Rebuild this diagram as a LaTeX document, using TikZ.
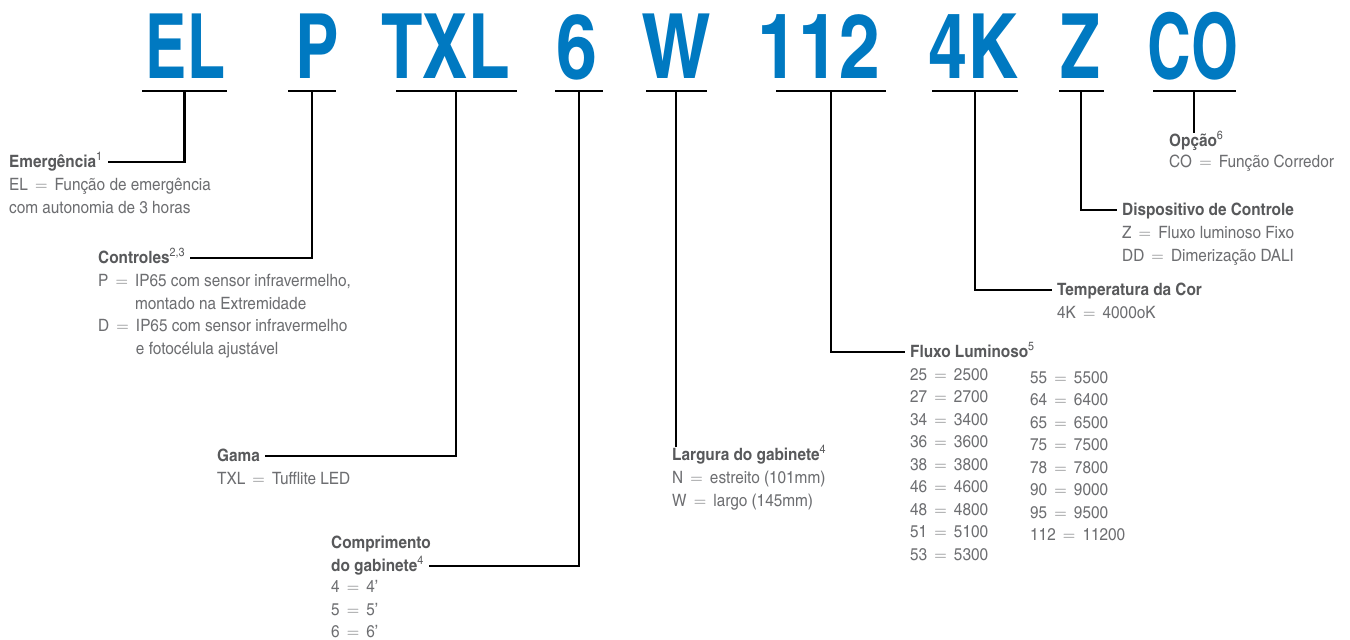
\documentclass[tikz,border=0pt]{standalone}
\usepackage[no-math]{fontspec}
\setmainfont{texgyreheroscn}[Extension=.otf, UprightFont=*-regular, BoldFont=*-bold]
\newfontfamily\codefont{texgyreheroscn-bold.otf}
\newfontfamily\headfont{texgyreheroscn-bold.otf}[FakeStretch=1.1]
\newfontfamily\bodyfont{texgyreheroscn-regular.otf}[FakeStretch=1.1]
\usetikzlibrary{positioning}
\definecolor{CodeBlue}{HTML}{0079C1}
\definecolor{Head}{HTML}{58595B}
\definecolor{Body}{HTML}{6D6E71}
\newcommand{\fnote}[1]{\textsuperscript{\bodyfont #1}}
\newcommand{\eq}{\hspace{0.42em}$=$\hspace{0.42em}}

\tikzset{
  code/.style={font=\fontsize{90}{90}\selectfont\codefont, text=CodeBlue, inner sep=0pt, anchor=base},
  bar/.style={fill=black, inner sep=0pt, minimum height=2.5pt, minimum width=#1},
  link/.style={line width=2.5pt},
  head/.style={font=\fontsize{17}{22.5}\selectfont\headfont, text=Head, anchor=west, inner xsep=5pt, inner ysep=0pt, text height=13pt, text depth=3pt},
  body/.style={font=\fontsize{17}{22.5}\selectfont\bodyfont, text=Body, anchor=north west, align=left, inner xsep=5pt, inner ysep=0pt},
}

\begin{document}
\begin{tikzpicture}[x=1pt,y=-1pt]
  \useasboundingbox (0,0) rectangle (1350,640);
  % code letters
  \node[code] (el) at (185.5,78) {\scalebox{0.84}[1]{EL}};
  \node[code] (p) at (317,78) {\scalebox{0.89}[1]{P}};
  \node[code] (txl) at (445.5,78) {\scalebox{0.92}[1]{TXL}};
  \node[code] (six) at (577,78) {6};
  \node[code] (w) at (676.5,78) {W};
  \node[code] (n112) at (819,78) {112};
  \node[code] (n4k) at (973.5,78) {\scalebox{0.95}[1]{4K}};
  \node[code] (z) at (1080.5,78) {\scalebox{0.88}[1]{Z}};
  \node[code] (co) at (1193,78) {\scalebox{0.82}[1]{CO}};
  % underlines
  \node[bar=85pt] (el-bar) at (184.5,91) {};
  \node[bar=48pt] (p-bar) at (312,91) {};
  \node[bar=121pt] (txl-bar) at (456,91) {};
  \node[bar=48pt] (six-bar) at (579,91) {};
  \node[bar=61pt] (w-bar) at (676,91) {};
  \node[bar=110pt] (n112-bar) at (831,91) {};
  \node[bar=86pt] (n4k-bar) at (975,91) {};
  \node[bar=45pt] (z-bar) at (1081,91) {};
  \node[bar=83pt] (co-bar) at (1194,91) {};

  % headings
  \node[head] (emerg) at (4,162) {Emergência\fnote{1}};
  \node[head] (ctrl) at (93,258) {Controles\fnote{2,3}};
  \node[head] (gama) at (212,456) {Gama};
  \node[head] (compr) at (326,566) {do gabinete\fnote{4}};
  \node[head, anchor=south west, yshift=6pt] (compr-top) at (compr.north west) {Comprimento};
  \node[head] (larg) at (667,455) {Largura do gabinete\fnote{4}};
  \node[head] (fluxo) at (905,352) {Fluxo Luminoso\fnote{5}};
  \node[head] (temp) at (1052,290) {Temperatura da Cor};
  \node[head] (disp) at (1117,210) {Dispositivo de Controle};
  \node[head] (opcao) at (1164,141) {Opção\fnote{6}};

  % descriptions
  \node[body] (emerg-d) at ([yshift=-8pt]emerg.south west) {EL\eq Função de emergência\\com autonomia de 3 horas};
  \node[body] (ctrl-d) at ([yshift=-8pt]ctrl.south west) {P\eq IP65 com sensor infravermelho,\\\phantom{P\eq}montado na Extremidade\\D\eq IP65 com sensor infravermelho\\\phantom{D\eq}e fotocélula ajustável};
  \node[body] (gama-d) at ([yshift=-8pt]gama.south west) {TXL\eq Tufflite LED};
  \node[body] (compr-d) at ([yshift=-6pt]compr.south west) {4\eq 4’\\5\eq 5’\\6\eq 6’};
  \node[body] (larg-d) at ([yshift=-8pt]larg.south west) {N\eq estreito (101mm)\\W\eq largo (145mm)};
  \node[body] (fluxo-l) at ([yshift=-8pt]fluxo.south west) {25\eq 2500\\27\eq 2700\\34\eq 3400\\36\eq 3600\\38\eq 3800\\46\eq 4600\\48\eq 4800\\51\eq 5100\\53\eq 5300};
  \node[body] (fluxo-r) at ([xshift=120pt,yshift=-3pt]fluxo-l.north west) {55\eq 5500\\64\eq 6400\\65\eq 6500\\75\eq 7500\\78\eq 7800\\90\eq 9000\\95\eq 9500\\112\eq 11200};
  \node[body] (temp-d) at ([yshift=-8pt]temp.south west) {4K\eq 4000oK};
  \node[body] (disp-d) at ([yshift=-8pt]disp.south west) {Z\eq Fluxo luminoso Fixo\\DD\eq Dimerização DALI};
  \node[body] (opcao-d) at ([yshift=-6pt]opcao.south west) {CO\eq Função Corredor};

  % connectors
  \draw[link] (el-bar.center) |- (emerg.east);
  \draw[link] (p-bar.center) |- (ctrl.east);
  \draw[link] (txl-bar.center) |- (gama.east);
  \draw[link] (six-bar.center) |- (compr.east);
  \draw[link] (w-bar.center) -- (w-bar.center |- larg.north);
  \draw[link] (n112-bar.center) |- (fluxo.west);
  \draw[link] (n4k-bar.center) |- (temp.west);
  \draw[link] (z-bar.center) |- (disp.west);
  \draw[link] (co-bar.center) -- (co-bar.center |- opcao.north);
\end{tikzpicture}
\end{document}
